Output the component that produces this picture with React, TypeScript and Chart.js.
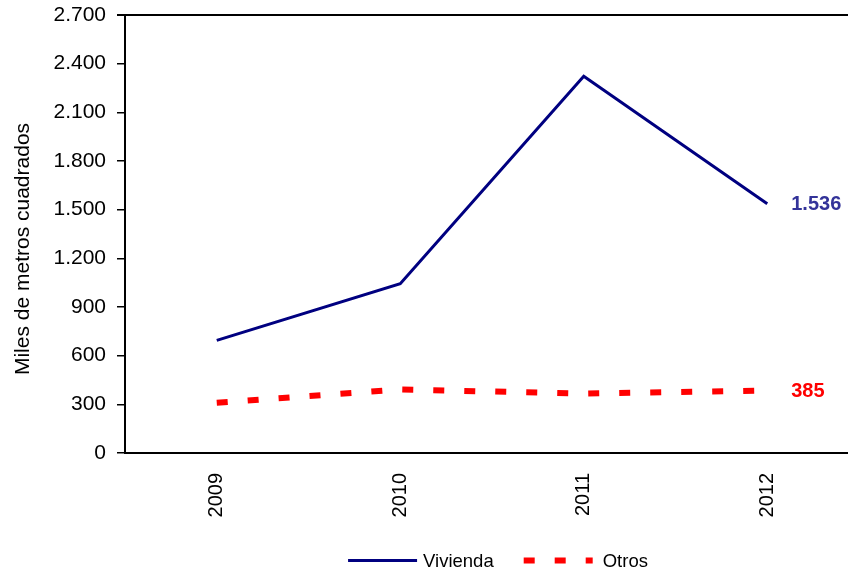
import React, { useEffect, useRef } from "react";
import { Chart, registerables } from "chart.js";

Chart.register(...registerables);

const categories = ["2009", "2010", "2011", "2012"];
const viviendaValues = [694, 1044, 2322, 1536];
const otrosValues = [310, 392, 366, 385];
const seriesNames = ["Vivienda", "Otros"];
const yAxisTitle = "Miles de metros cuadrados";
const yMin = 0;
const yMax = 2700;
const yStep = 300;

const FONT = "'Liberation Sans', Arial, sans-serif";

function fmt(v: number): string {
  return String(Math.round(v)).replace(/\B(?=(\d{3})+(?!\d))/g, ".");
}

const decorPlugin = {
  id: "decor",
  afterDraw(chart: any) {
    const ctx = chart.ctx;
    const area = chart.chartArea;
    ctx.save();
    // top border
    ctx.strokeStyle = "#000";
    ctx.lineWidth = 2;
    ctx.beginPath();
    ctx.moveTo(area.left - 8, area.top);
    ctx.lineTo(area.right, area.top);
    ctx.stroke();

    // y axis title
    ctx.fillStyle = "#000";
    ctx.font = `21px ${FONT}`;
    ctx.textAlign = "center";
    ctx.textBaseline = "middle";
    ctx.translate(23, 249);
    ctx.rotate(-Math.PI / 2);
    ctx.fillText(yAxisTitle, 0, 0);
    ctx.restore();

    // end labels
    ctx.save();
    ctx.font = `bold 20px ${FONT}`;
    ctx.textAlign = "left";
    ctx.textBaseline = "middle";
    const labelColors = ["#333399", "#FF0000"];
    chart.data.datasets.forEach((ds: any, i: number) => {
      const meta = chart.getDatasetMeta(i);
      const last = meta.data[meta.data.length - 1];
      ctx.fillStyle = labelColors[i];
      ctx.fillText(fmt(ds.data[ds.data.length - 1]), last.x + 24, last.y + 1);
    });
    ctx.restore();

    // legend
    ctx.save();
    ctx.font = `18.5px ${FONT}`;
    ctx.textBaseline = "middle";
    ctx.textAlign = "left";
    const sample = 69;
    const w0 = ctx.measureText(seriesNames[0]).width;
    const w1 = ctx.measureText(seriesNames[1]).width;
    const total = sample + 6 + w0 + 30 + sample + 10 + w1;
    const cx = (area.left + area.right) / 2 + 6;
    let x = cx - total / 2;
    const y = 560.5;
    const ds0 = chart.data.datasets[0];
    const ds1 = chart.data.datasets[1];
    ctx.strokeStyle = ds0.borderColor;
    ctx.lineWidth = ds0.borderWidth;
    ctx.beginPath();
    ctx.moveTo(x, y);
    ctx.lineTo(x + sample, y);
    ctx.stroke();
    x += sample + 6;
    ctx.fillStyle = "#000";
    ctx.fillText(seriesNames[0], x, y + 1);
    x += w0 + 30;
    ctx.strokeStyle = ds1.borderColor;
    ctx.lineWidth = ds1.borderWidth;
    ctx.lineCap = "butt";
    ctx.setLineDash(ds1.borderDash);
    ctx.beginPath();
    ctx.moveTo(x, y);
    ctx.lineTo(x + sample, y);
    ctx.stroke();
    ctx.setLineDash([]);
    x += sample + 10;
    ctx.fillText(seriesNames[1], x, y + 1);
    ctx.restore();
  },
};

export default function App() {
  const ref = useRef<HTMLCanvasElement>(null);

  useEffect(() => {
    if (!ref.current) return;
    const chart = new Chart(ref.current, {
      type: "line",
      data: {
        labels: categories,
        datasets: [
          {
            label: seriesNames[0],
            data: viviendaValues,
            borderColor: "#000080",
            backgroundColor: "#000080",
            borderWidth: 3,
            pointRadius: 0,
            tension: 0,
            fill: false,
          },
          {
            label: seriesNames[1],
            data: otrosValues,
            borderColor: "#FF0000",
            backgroundColor: "#FF0000",
            borderWidth: 6,
            borderDash: [11, 20],
            borderCapStyle: "butt",
            pointRadius: 0,
            tension: 0,
            fill: false,
          },
        ],
      },
      options: {
        responsive: false,
        animation: false,
        devicePixelRatio: 1,
        layout: { padding: { left: 0, right: 21, top: 15, bottom: 0 } },
        plugins: {
          legend: { display: false },
          tooltip: { enabled: false },
          title: { display: false },
        },
        scales: {
          x: {
            type: "category",
            offset: true,
            grid: { display: false, drawTicks: false },
            border: { display: true, color: "#000", width: 2 },
            ticks: {
              autoSkip: false,
              minRotation: 90,
              maxRotation: 90,
              padding: 20,
              color: "#000",
              font: { family: FONT, size: 20 },
            },
            afterFit(scale: any) {
              scale.height = 119;
            },
          },
          y: {
            min: yMin,
            max: yMax,
            border: { display: true, color: "#000", width: 2 },
            grid: {
              drawOnChartArea: false,
              drawTicks: true,
              tickLength: 8,
              color: "#000",
              lineWidth: 1.5,
            },
            ticks: {
              stepSize: yStep,
              padding: 11,
              color: "#000",
              font: { family: FONT, size: 21 },
              callback: (v: any) => fmt(Number(v)),
            },
            afterFit(scale: any) {
              scale.width = 125;
              scale.paddingTop = 10;
              scale.paddingBottom = 10;
            },
          },
        },
      },
      plugins: [decorPlugin],
    });
    return () => chart.destroy();
  }, []);

  return (
    <div
      style={{
        position: "absolute",
        left: 0,
        top: 0,
        width: 848,
        height: 572,
        overflow: "hidden",
        background: "#fff",
      }}
    >
      <canvas ref={ref} width={880} height={572} style={{ display: "block" }} />
    </div>
  );
}
